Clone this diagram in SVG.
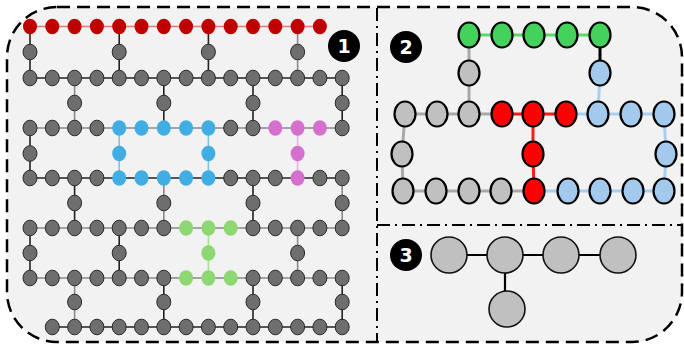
<svg xmlns="http://www.w3.org/2000/svg" xmlns:xlink="http://www.w3.org/1999/xlink" width="684" height="350" viewBox="0 0 684 350">
<style>
.frame{fill:#f2f2f2;stroke:#000;stroke-width:2.5;stroke-dasharray:13 7}
.div{fill:none;stroke:#000;stroke-width:2;stroke-dasharray:13 5 2 5}
.e{fill:none;stroke-width:1.6}
.dk{stroke:#222}.gy{stroke:#8a8a8a}.lr{stroke:#e07a7a}.lb{stroke:#7cc4ec}.lp{stroke:#eeb0e4}.lg{stroke:#a6e28c}
.g{fill:#6e6e6e;stroke:#2b2b2b;stroke-width:1}
.r{fill:#c00000}.b{fill:#41aee3}.p{fill:#d670cf}.gr{fill:#8ed873}
.e2{fill:none;stroke-width:3}
.q{stroke-width:2.2;stroke:#000}
.G2{fill:#45d25c}.S2{fill:#c0c0c0}.R2{fill:#ff0000}.B2{fill:#a3c9ec}
.n3{fill:#c0c0c0;stroke:#111;stroke-width:1.6}
.badge{fill:#000}
.bt{fill:#fff;font-family:"DejaVu Sans",sans-serif;font-weight:bold;font-size:19px;text-anchor:middle}
</style>
<defs>
<ellipse id="s" cx="0" cy="0" rx="7" ry="7.8"/>
<ellipse id="m" cx="0" cy="0" rx="10.5" ry="12.5"/>
</defs>
<rect class="frame" x="7" y="7" width="675" height="335" rx="50" ry="50"/>
<path class="div" d="M377,8 V341 M377,225 H681"/>
<g id="connectors">
<g id="p1-edges">
<path class="e lr" d="M30,26.5 H319.9"/>
<path class="e dk" d="M30,78 H342.2"/>
<path class="e gy" d="M30,128 H342.2"/>
<path class="e dk" d="M30,178 H342.2"/>
<path class="e gy" d="M30,228 H342.2"/>
<path class="e gy" d="M30,278 H342.2"/>
<path class="e dk" d="M52.3,327 H342.2"/>
<path class="e dk" d="M30,26.5 V78 M119.2,26.5 V78 M208.4,26.5 V78"/>
<path class="e gy" d="M297.6,26.5 V78"/>
<path class="e gy" d="M74.6,78 V128"/>
<path class="e dk" d="M163.8,78 V128 M253,78 V128 M342.2,78 V128"/>
<path class="e dk" d="M30,128 V178"/>
<path class="e lb" d="M119.2,128 V178 M208.4,128 V178"/>
<path class="e lp" d="M297.6,128 V178"/>
<path class="e dk" d="M74.6,178 V228 M253,178 V228"/>
<path class="e gy" d="M163.8,178 V228 M342.2,178 V228"/>
<path class="e dk" d="M30,228 V278 M119.2,228 V278"/>
<path class="e lg" d="M208.4,228 V278"/>
<path class="e gy" d="M297.6,228 V278"/>
<path class="e gy" d="M74.6,278 V327"/>
<path class="e dk" d="M163.8,278 V327 M253,278 V327 M342.2,278 V327"/>
</g>
<g id="p2-edges">
<path class="e2" stroke="#55dd66" stroke-width="2.5" d="M469,35 H600"/>
<path class="e2" stroke="#a8a8a8" d="M469,35 V114 M405,114 H502 M405,114 L402,154 L403,191 H534"/>
<path class="e2" stroke="#ff1a1a" stroke-width="2.5" d="M502,114 H566 M533,114 V154 L534,191"/>
<path class="e2" stroke="#a8cff0" d="M600,73 L598,114 M566,114 H664 L666,154 L664,191 H534"/>
<path class="e2" stroke="#000" stroke-width="2.5" d="M600,35 V73"/>
</g>
<g id="p3-edges">
<path fill="none" stroke="#000" stroke-width="2.2" d="M449,255 H618 M505,255 V309"/>
</g>
</g>
<g id="panel1-nodes">
<g id="r0">
<g id="n-0-0"><use href="#s" class="r" x="30" y="26.5"/></g>
<g id="n-0-1"><use href="#s" class="r" x="52.3" y="26.5"/></g>
<g id="n-0-2"><use href="#s" class="r" x="74.6" y="26.5"/></g>
<g id="n-0-3"><use href="#s" class="r" x="96.9" y="26.5"/></g>
<g id="n-0-4"><use href="#s" class="r" x="119.2" y="26.5"/></g>
<g id="n-0-5"><use href="#s" class="r" x="141.5" y="26.5"/></g>
<g id="n-0-6"><use href="#s" class="r" x="163.8" y="26.5"/></g>
<g id="n-0-7"><use href="#s" class="r" x="186.1" y="26.5"/></g>
<g id="n-0-8"><use href="#s" class="r" x="208.4" y="26.5"/></g>
<g id="n-0-9"><use href="#s" class="r" x="230.7" y="26.5"/></g>
<g id="n-0-10"><use href="#s" class="r" x="253" y="26.5"/></g>
<g id="n-0-11"><use href="#s" class="r" x="275.3" y="26.5"/></g>
<g id="n-0-12"><use href="#s" class="r" x="297.6" y="26.5"/></g>
<g id="n-0-13"><use href="#s" class="r" x="319.9" y="26.5"/></g>
</g>
<g id="r1">
<g id="n-1-0"><use href="#s" class="g" x="30" y="78"/></g>
<g id="n-1-1"><use href="#s" class="g" x="52.3" y="78"/></g>
<g id="n-1-2"><use href="#s" class="g" x="74.6" y="78"/></g>
<g id="n-1-3"><use href="#s" class="g" x="96.9" y="78"/></g>
<g id="n-1-4"><use href="#s" class="g" x="119.2" y="78"/></g>
<g id="n-1-5"><use href="#s" class="g" x="141.5" y="78"/></g>
<g id="n-1-6"><use href="#s" class="g" x="163.8" y="78"/></g>
<g id="n-1-7"><use href="#s" class="g" x="186.1" y="78"/></g>
<g id="n-1-8"><use href="#s" class="g" x="208.4" y="78"/></g>
<g id="n-1-9"><use href="#s" class="g" x="230.7" y="78"/></g>
<g id="n-1-10"><use href="#s" class="g" x="253" y="78"/></g>
<g id="n-1-11"><use href="#s" class="g" x="275.3" y="78"/></g>
<g id="n-1-12"><use href="#s" class="g" x="297.6" y="78"/></g>
<g id="n-1-13"><use href="#s" class="g" x="319.9" y="78"/></g>
<g id="n-1-14"><use href="#s" class="g" x="342.2" y="78"/></g>
</g>
<g id="r2">
<g id="n-2-0"><use href="#s" class="g" x="30" y="128"/></g>
<g id="n-2-1"><use href="#s" class="g" x="52.3" y="128"/></g>
<g id="n-2-2"><use href="#s" class="g" x="74.6" y="128"/></g>
<g id="n-2-3"><use href="#s" class="g" x="96.9" y="128"/></g>
<g id="n-2-4"><use href="#s" class="b" x="119.2" y="128"/></g>
<g id="n-2-5"><use href="#s" class="b" x="141.5" y="128"/></g>
<g id="n-2-6"><use href="#s" class="b" x="163.8" y="128"/></g>
<g id="n-2-7"><use href="#s" class="b" x="186.1" y="128"/></g>
<g id="n-2-8"><use href="#s" class="b" x="208.4" y="128"/></g>
<g id="n-2-9"><use href="#s" class="g" x="230.7" y="128"/></g>
<g id="n-2-10"><use href="#s" class="g" x="253" y="128"/></g>
<g id="n-2-11"><use href="#s" class="p" x="275.3" y="128"/></g>
<g id="n-2-12"><use href="#s" class="p" x="297.6" y="128"/></g>
<g id="n-2-13"><use href="#s" class="p" x="319.9" y="128"/></g>
<g id="n-2-14"><use href="#s" class="g" x="342.2" y="128"/></g>
</g>
<g id="r3">
<g id="n-3-0"><use href="#s" class="g" x="30" y="178"/></g>
<g id="n-3-1"><use href="#s" class="g" x="52.3" y="178"/></g>
<g id="n-3-2"><use href="#s" class="g" x="74.6" y="178"/></g>
<g id="n-3-3"><use href="#s" class="g" x="96.9" y="178"/></g>
<g id="n-3-4"><use href="#s" class="b" x="119.2" y="178"/></g>
<g id="n-3-5"><use href="#s" class="b" x="141.5" y="178"/></g>
<g id="n-3-6"><use href="#s" class="b" x="163.8" y="178"/></g>
<g id="n-3-7"><use href="#s" class="b" x="186.1" y="178"/></g>
<g id="n-3-8"><use href="#s" class="b" x="208.4" y="178"/></g>
<g id="n-3-9"><use href="#s" class="g" x="230.7" y="178"/></g>
<g id="n-3-10"><use href="#s" class="g" x="253" y="178"/></g>
<g id="n-3-11"><use href="#s" class="g" x="275.3" y="178"/></g>
<g id="n-3-12"><use href="#s" class="p" x="297.6" y="178"/></g>
<g id="n-3-13"><use href="#s" class="g" x="319.9" y="178"/></g>
<g id="n-3-14"><use href="#s" class="g" x="342.2" y="178"/></g>
</g>
<g id="r4">
<g id="n-4-0"><use href="#s" class="g" x="30" y="228"/></g>
<g id="n-4-1"><use href="#s" class="g" x="52.3" y="228"/></g>
<g id="n-4-2"><use href="#s" class="g" x="74.6" y="228"/></g>
<g id="n-4-3"><use href="#s" class="g" x="96.9" y="228"/></g>
<g id="n-4-4"><use href="#s" class="g" x="119.2" y="228"/></g>
<g id="n-4-5"><use href="#s" class="g" x="141.5" y="228"/></g>
<g id="n-4-6"><use href="#s" class="g" x="163.8" y="228"/></g>
<g id="n-4-7"><use href="#s" class="gr" x="186.1" y="228"/></g>
<g id="n-4-8"><use href="#s" class="gr" x="208.4" y="228"/></g>
<g id="n-4-9"><use href="#s" class="gr" x="230.7" y="228"/></g>
<g id="n-4-10"><use href="#s" class="g" x="253" y="228"/></g>
<g id="n-4-11"><use href="#s" class="g" x="275.3" y="228"/></g>
<g id="n-4-12"><use href="#s" class="g" x="297.6" y="228"/></g>
<g id="n-4-13"><use href="#s" class="g" x="319.9" y="228"/></g>
<g id="n-4-14"><use href="#s" class="g" x="342.2" y="228"/></g>
</g>
<g id="r5">
<g id="n-5-0"><use href="#s" class="g" x="30" y="278"/></g>
<g id="n-5-1"><use href="#s" class="g" x="52.3" y="278"/></g>
<g id="n-5-2"><use href="#s" class="g" x="74.6" y="278"/></g>
<g id="n-5-3"><use href="#s" class="g" x="96.9" y="278"/></g>
<g id="n-5-4"><use href="#s" class="g" x="119.2" y="278"/></g>
<g id="n-5-5"><use href="#s" class="g" x="141.5" y="278"/></g>
<g id="n-5-6"><use href="#s" class="g" x="163.8" y="278"/></g>
<g id="n-5-7"><use href="#s" class="gr" x="186.1" y="278"/></g>
<g id="n-5-8"><use href="#s" class="gr" x="208.4" y="278"/></g>
<g id="n-5-9"><use href="#s" class="gr" x="230.7" y="278"/></g>
<g id="n-5-10"><use href="#s" class="g" x="253" y="278"/></g>
<g id="n-5-11"><use href="#s" class="g" x="275.3" y="278"/></g>
<g id="n-5-12"><use href="#s" class="g" x="297.6" y="278"/></g>
<g id="n-5-13"><use href="#s" class="g" x="319.9" y="278"/></g>
<g id="n-5-14"><use href="#s" class="g" x="342.2" y="278"/></g>
</g>
<g id="r6">
<g id="n-6-1"><use href="#s" class="g" x="52.3" y="327"/></g>
<g id="n-6-2"><use href="#s" class="g" x="74.6" y="327"/></g>
<g id="n-6-3"><use href="#s" class="g" x="96.9" y="327"/></g>
<g id="n-6-4"><use href="#s" class="g" x="119.2" y="327"/></g>
<g id="n-6-5"><use href="#s" class="g" x="141.5" y="327"/></g>
<g id="n-6-6"><use href="#s" class="g" x="163.8" y="327"/></g>
<g id="n-6-7"><use href="#s" class="g" x="186.1" y="327"/></g>
<g id="n-6-8"><use href="#s" class="g" x="208.4" y="327"/></g>
<g id="n-6-9"><use href="#s" class="g" x="230.7" y="327"/></g>
<g id="n-6-10"><use href="#s" class="g" x="253" y="327"/></g>
<g id="n-6-11"><use href="#s" class="g" x="275.3" y="327"/></g>
<g id="n-6-12"><use href="#s" class="g" x="297.6" y="327"/></g>
<g id="n-6-13"><use href="#s" class="g" x="319.9" y="327"/></g>
<g id="n-6-14"><use href="#s" class="g" x="342.2" y="327"/></g>
</g>
<g id="links">
<g id="v-0-0"><use href="#s" class="g" x="30" y="52"/></g>
<g id="v-0-4"><use href="#s" class="g" x="119.2" y="52"/></g>
<g id="v-0-8"><use href="#s" class="g" x="208.4" y="52"/></g>
<g id="v-0-12"><use href="#s" class="g" x="297.6" y="52"/></g>
<g id="v-1-2"><use href="#s" class="g" x="74.6" y="103"/></g>
<g id="v-1-6"><use href="#s" class="g" x="163.8" y="103"/></g>
<g id="v-1-10"><use href="#s" class="g" x="253" y="103"/></g>
<g id="v-1-14"><use href="#s" class="g" x="342.2" y="103"/></g>
<g id="v-2-0"><use href="#s" class="g" x="30" y="153.5"/></g>
<g id="v-2-4"><use href="#s" class="b" x="119.2" y="153.5"/></g>
<g id="v-2-8"><use href="#s" class="b" x="208.4" y="153.5"/></g>
<g id="v-2-12"><use href="#s" class="p" x="297.6" y="153.5"/></g>
<g id="v-3-2"><use href="#s" class="g" x="74.6" y="203"/></g>
<g id="v-3-6"><use href="#s" class="g" x="163.8" y="203"/></g>
<g id="v-3-10"><use href="#s" class="g" x="253" y="203"/></g>
<g id="v-3-14"><use href="#s" class="g" x="342.2" y="203"/></g>
<g id="v-4-0"><use href="#s" class="g" x="30" y="253"/></g>
<g id="v-4-4"><use href="#s" class="g" x="119.2" y="253"/></g>
<g id="v-4-8"><use href="#s" class="gr" x="208.4" y="253"/></g>
<g id="v-4-12"><use href="#s" class="g" x="297.6" y="253"/></g>
<g id="v-5-2"><use href="#s" class="g" x="74.6" y="302"/></g>
<g id="v-5-6"><use href="#s" class="g" x="163.8" y="302"/></g>
<g id="v-5-10"><use href="#s" class="g" x="253" y="302"/></g>
<g id="v-5-14"><use href="#s" class="g" x="342.2" y="302"/></g>
</g>
</g>
<g id="panel2-nodes">
<g id="a1"><use href="#m" class="q G2" x="469" y="35"/></g>
<g id="a2"><use href="#m" class="q G2" x="502" y="35"/></g>
<g id="a3"><use href="#m" class="q G2" x="534" y="35"/></g>
<g id="a4"><use href="#m" class="q G2" x="567" y="35"/></g>
<g id="a5"><use href="#m" class="q G2" x="600" y="35"/></g>
<g id="b1"><use href="#m" class="q S2" x="469" y="73"/></g>
<g id="b2"><use href="#m" class="q B2" x="600" y="73"/></g>
<g id="c1"><use href="#m" class="q S2" x="405" y="114"/></g>
<g id="c2"><use href="#m" class="q S2" x="437" y="114"/></g>
<g id="c3"><use href="#m" class="q S2" x="469" y="114"/></g>
<g id="c4"><use href="#m" class="q R2" x="502" y="114"/></g>
<g id="c5"><use href="#m" class="q R2" x="533" y="114"/></g>
<g id="c6"><use href="#m" class="q R2" x="566" y="114"/></g>
<g id="c7"><use href="#m" class="q B2" x="598" y="114"/></g>
<g id="c8"><use href="#m" class="q B2" x="631" y="114"/></g>
<g id="c9"><use href="#m" class="q B2" x="664" y="114"/></g>
<g id="d1"><use href="#m" class="q S2" x="402" y="154"/></g>
<g id="d2"><use href="#m" class="q R2" x="533" y="154"/></g>
<g id="d3"><use href="#m" class="q B2" x="666" y="154"/></g>
<g id="e1"><use href="#m" class="q S2" x="403" y="191"/></g>
<g id="e2"><use href="#m" class="q S2" x="436" y="191"/></g>
<g id="e3"><use href="#m" class="q S2" x="469" y="191"/></g>
<g id="e4"><use href="#m" class="q S2" x="501" y="191"/></g>
<g id="e5"><use href="#m" class="q R2" x="534" y="191"/></g>
<g id="e6"><use href="#m" class="q B2" x="568" y="191"/></g>
<g id="e7"><use href="#m" class="q B2" x="600" y="191"/></g>
<g id="e8"><use href="#m" class="q B2" x="633" y="191"/></g>
<g id="e9"><use href="#m" class="q B2" x="664" y="191"/></g>
</g>
<g id="panel3-nodes">
<g id="t1"><circle class="n3" cx="449" cy="255" r="18"/></g>
<g id="t2"><circle class="n3" cx="505" cy="255" r="18"/></g>
<g id="t3"><circle class="n3" cx="561" cy="255" r="18"/></g>
<g id="t4"><circle class="n3" cx="618" cy="255" r="18"/></g>
<g id="t5"><circle class="n3" cx="507" cy="309" r="18"/></g>
</g>
<g id="badge1"><circle class="badge" cx="344" cy="46" r="16"/><text class="bt" x="344" y="53">1</text></g>
<g id="badge2"><circle class="badge" cx="406" cy="47" r="16"/><text class="bt" x="406" y="54">2</text></g>
<g id="badge3"><circle class="badge" cx="406" cy="255" r="16"/><text class="bt" x="406" y="262">3</text></g>
</svg>
